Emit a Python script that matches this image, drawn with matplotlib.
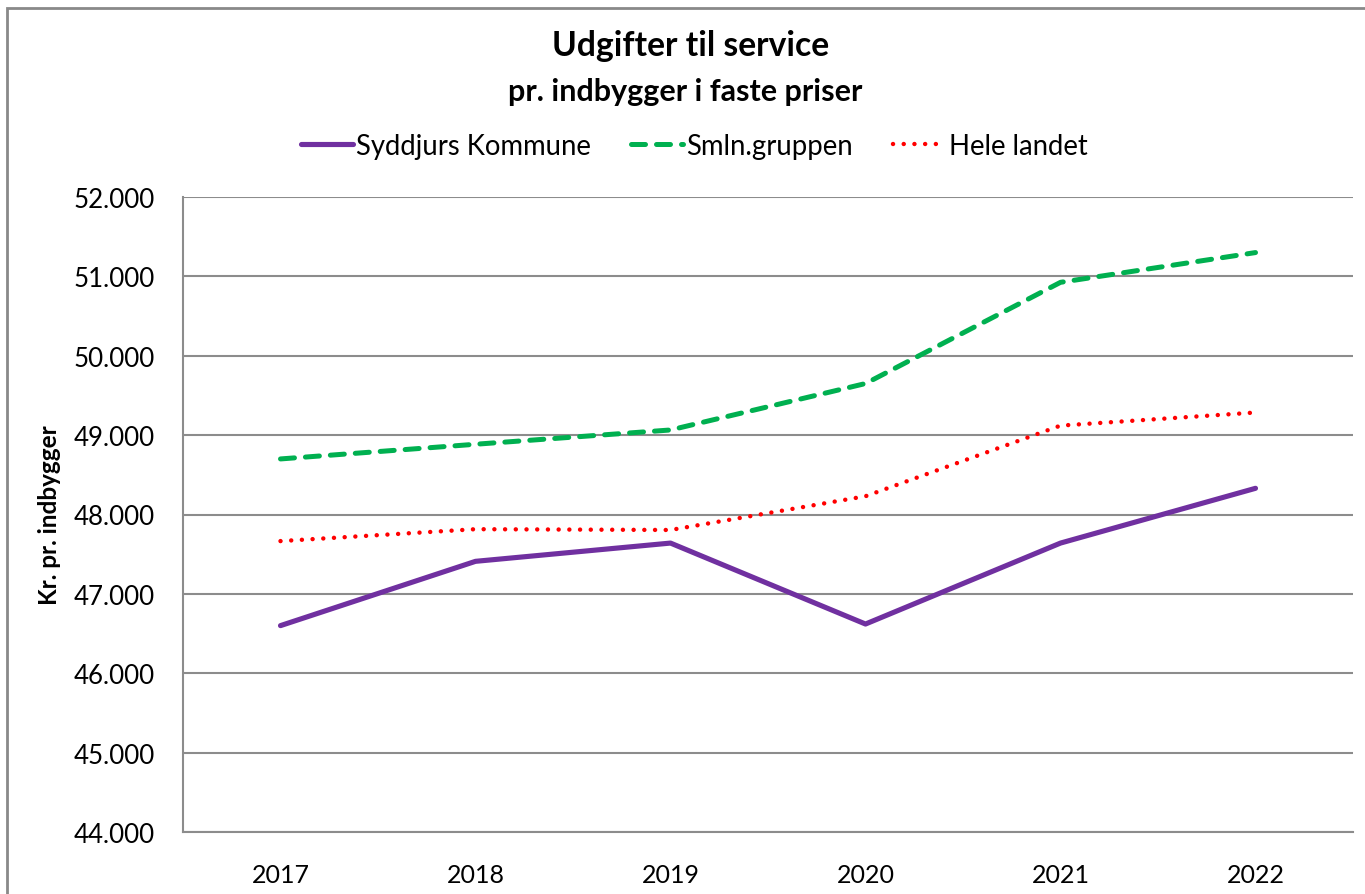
import numpy as np
import matplotlib
matplotlib.use("Agg")
import matplotlib.pyplot as plt
from matplotlib.patches import Rectangle

years = ["2017", "2018", "2019", "2020", "2021", "2022"]
syddjurs = [46600, 47410, 47640, 46620, 47640, 48330]
smln = [48700, 48885, 49065, 49650, 50925, 51300]
hele = [47665, 47815, 47805, 48230, 49120, 49285]
yticks = [44000, 45000, 46000, 47000, 48000, 49000, 50000, 51000, 52000]
ytick_labels = ["44.000", "45.000", "46.000", "47.000", "48.000", "49.000", "50.000", "51.000", "52.000"]

plt.rcParams['font.family'] = ['Lato', 'DejaVu Sans']

fig = plt.figure(figsize=(13.65, 8.95), dpi=100)
ax = fig.add_axes([183/1365, 1 - 833/895, (1353-183)/1365, (833-198)/895])

x = np.arange(len(years))
ax.plot(x, syddjurs, color='#7030A0', lw=3.7, solid_capstyle='round', solid_joinstyle='round',
        label='Syddjurs Kommune')
ax.plot(x, smln, color='#00B050', lw=3.6, dashes=(2.8, 2.2), dash_capstyle='round',
        dash_joinstyle='round', label='Smln.gruppen')
ax.plot(x, hele, color='#FF0000', lw=3.2, dashes=(0.01, 2.4), dash_capstyle='round',
        label='Hele landet')

ax.set_xlim(-0.5, len(years) - 0.5)
ax.set_ylim(44000, 52000)
ax.set_yticks(yticks)
ax.set_yticklabels(ytick_labels, fontsize=18.6)
ax.set_xticks(x)
ax.set_xticklabels(years, fontsize=18)
ax.tick_params(axis='x', length=0, pad=22)
ax.tick_params(axis='y', length=0, pad=20)
ax.grid(axis='y', color='#8C8C8C', lw=1.5)
ax.set_axisbelow(True)
for s in ['top', 'right']:
    ax.spines[s].set_visible(False)
for s in ['left', 'bottom']:
    ax.spines[s].set_color('#8C8C8C')
    ax.spines[s].set_linewidth(1.5)

ax.set_ylabel('Kr. pr. indbygger', fontsize=17.5, fontweight='bold')
ax.yaxis.set_label_coords((61-183)/1170, (833-515)/635)

fig.text(691/1365, 1 - 46/895, 'Udgifter til service', ha='center', va='center', fontsize=24.2, fontweight='bold')
fig.text(685/1365, 1 - 92/895, 'pr. indbygger i faste priser', ha='center', va='center', fontsize=22, fontweight='bold')

leg = fig.legend(loc='center', bbox_to_anchor=(694/1365, 1 - 147/895), ncol=3, frameon=False,
                 fontsize=19.8, handlelength=1.9, handletextpad=0.12, columnspacing=1.45)

fig.patches.append(Rectangle((7/1365, -0.1), 1.2, 1 - 9/895 + 0.1, transform=fig.transFigure,
                             fill=False, edgecolor='#898989', lw=2, zorder=0))

fig.savefig('out.png', dpi=100, facecolor='white')
